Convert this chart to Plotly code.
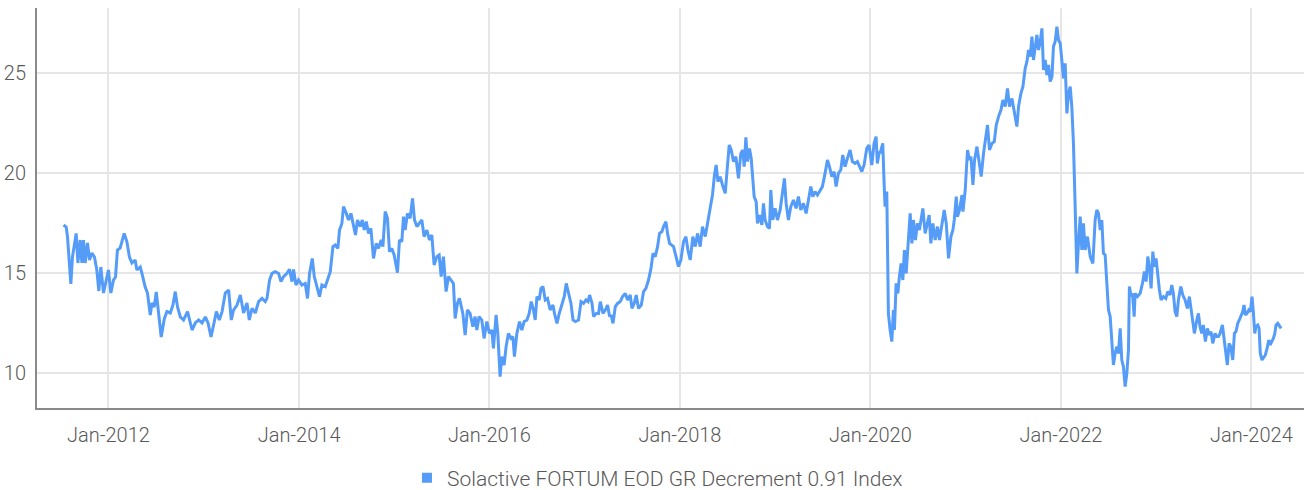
import pandas as pd
import plotly.graph_objects as go

series_name = "Solactive FORTUM EOD GR Decrement 0.91 Index"

dates_decimal = [
    2011.528, 2011.556, 2011.570, 2011.605, 2011.622, 2011.661, 2011.679, 2011.703, 2011.721, 2011.738,
    2011.755, 2011.780, 2011.801, 2011.826, 2011.853, 2011.878, 2011.899, 2011.920, 2011.948, 2011.976,
    2012.000, 2012.025, 2012.053, 2012.074, 2012.094, 2012.123, 2012.141, 2012.165, 2012.193, 2012.220,
    2012.246, 2012.280, 2012.298, 2012.333, 2012.351, 2012.385, 2012.409, 2012.438, 2012.456, 2012.480,
    2012.501, 2012.525, 2012.553, 2012.585, 2012.613, 2012.648, 2012.676, 2012.700, 2012.724, 2012.753,
    2012.787, 2012.829, 2012.876, 2012.910, 2012.945, 2012.981, 2013.015, 2013.044, 2013.075, 2013.102,
    2013.131, 2013.162, 2013.191, 2013.225, 2013.260, 2013.288, 2013.312, 2013.348, 2013.383, 2013.417,
    2013.453, 2013.477, 2013.506, 2013.540,
    2013.575, 2013.611, 2013.645, 2013.663, 2013.690, 2013.716, 2013.750, 2013.785, 2013.810, 2013.837,
    2013.873, 2013.900, 2013.926, 2013.942, 2013.968, 2013.995, 2014.030, 2014.065, 2014.089, 2014.110,
    2014.139, 2014.160, 2014.188, 2014.215, 2014.240, 2014.275, 2014.299, 2014.328, 2014.356, 2014.380,
    2014.408, 2014.425, 2014.450, 2014.467, 2014.496, 2014.520, 2014.545, 2014.566, 2014.593, 2014.614,
    2014.643, 2014.664, 2014.685, 2014.706, 2014.730, 2014.755, 2014.782, 2014.811, 2014.835, 2014.863,
    2014.881, 2014.905, 2014.929, 2014.950, 2014.975, 2014.999, 2015.034, 2015.055, 2015.080, 2015.097,
    2015.115, 2015.139, 2015.167, 2015.192, 2015.213, 2015.238, 2015.265, 2015.290, 2015.314, 2015.343,
    2015.370, 2015.395, 2015.419, 2015.448, 2015.472, 2015.493, 2015.517, 2015.545, 2015.570, 2015.598,
    2015.622, 2015.640, 2015.664, 2015.685,
    2015.721, 2015.745, 2015.769, 2015.797, 2015.826, 2015.850, 2015.868, 2015.892, 2015.920, 2015.944,
    2015.973, 2016.000, 2016.025, 2016.042, 2016.070, 2016.088, 2016.112, 2016.130, 2016.154, 2016.175,
    2016.199, 2016.225, 2016.246, 2016.262, 2016.288, 2016.315, 2016.340, 2016.364, 2016.393, 2016.417,
    2016.438, 2016.462, 2016.480, 2016.498, 2016.522, 2016.540, 2016.561, 2016.585, 2016.609, 2016.637,
    2016.666, 2016.682, 2016.708, 2016.732, 2016.760, 2016.784, 2016.805, 2016.829, 2016.855, 2016.876,
    2016.900, 2016.934, 2016.960, 2016.987, 2017.012, 2017.033, 2017.050, 2017.075, 2017.092, 2017.120,
    2017.144, 2017.162, 2017.191, 2017.215, 2017.239, 2017.260, 2017.275, 2017.296, 2017.320, 2017.344,
    2017.372, 2017.396, 2017.425, 2017.449, 2017.477, 2017.495, 2017.519, 2017.540, 2017.564, 2017.593,
    2017.617, 2017.642, 2017.669, 2017.695, 2017.716, 2017.740, 2017.764, 2017.785, 2017.810, 2017.827,
    2017.852, 2017.869, 2017.890,
    2017.932, 2017.960, 2017.984, 2018.009, 2018.037, 2018.062, 2018.083, 2018.107, 2018.135, 2018.160,
    2018.184, 2018.212, 2018.236, 2018.265, 2018.289, 2018.317, 2018.341, 2018.362, 2018.380, 2018.398,
    2018.422, 2018.446, 2018.475, 2018.492, 2018.517, 2018.538, 2018.562, 2018.587, 2018.614, 2018.639,
    2018.660, 2018.674, 2018.692, 2018.709, 2018.730, 2018.748, 2018.765, 2018.779, 2018.800, 2018.814,
    2018.835, 2018.860, 2018.877, 2018.894, 2018.919, 2018.940, 2018.954, 2018.975, 2018.999, 2019.024,
    2019.052, 2019.076, 2019.097, 2019.115, 2019.139, 2019.164, 2019.192, 2019.220, 2019.244, 2019.269,
    2019.297, 2019.325, 2019.349, 2019.374, 2019.395, 2019.419, 2019.444, 2019.472, 2019.496, 2019.524,
    2019.549, 2019.570, 2019.595, 2019.619, 2019.640, 2019.664, 2019.689, 2019.710, 2019.734, 2019.759,
    2019.787, 2019.811, 2019.839, 2019.864, 2019.885, 2019.910, 2019.934, 2019.962, 2019.986, 2020.015,
    2020.039, 2020.060, 2020.073, 2020.094,
    2020.102, 2020.130, 2020.144, 2020.154, 2020.172, 2020.189, 2020.207, 2020.225, 2020.241, 2020.252,
    2020.270, 2020.288, 2020.304, 2020.322, 2020.340, 2020.357, 2020.375, 2020.399, 2020.417, 2020.435,
    2020.451, 2020.472, 2020.493, 2020.514, 2020.540, 2020.550, 2020.574, 2020.598, 2020.616, 2020.634,
    2020.655, 2020.679, 2020.703, 2020.724, 2020.750, 2020.774, 2020.795, 2020.819, 2020.844, 2020.865,
    2020.879, 2020.900, 2020.913, 2020.934, 2020.960, 2020.970, 2020.994, 2021.018, 2021.039, 2021.054,
    2021.075, 2021.092, 2021.117, 2021.141, 2021.162, 2021.186, 2021.204, 2021.228, 2021.249, 2021.275,
    2021.299, 2021.320, 2021.344, 2021.369, 2021.390, 2021.414, 2021.438, 2021.459, 2021.485, 2021.509,
    2021.537, 2021.554, 2021.579, 2021.600, 2021.624, 2021.642, 2021.659, 2021.677, 2021.695, 2021.711,
    2021.729, 2021.747, 2021.764, 2021.782, 2021.800, 2021.816, 2021.834, 2021.852, 2021.869, 2021.887,
    2021.905, 2021.921, 2021.939, 2021.957, 2021.974, 2021.992, 2022.009, 2022.026, 2022.044, 2022.062,
    2022.079, 2022.097, 2022.114, 2022.131, 2022.149, 2022.167, 2022.184, 2022.202, 2022.219, 2022.236,
    2022.254, 2022.278, 2022.307, 2022.335, 2022.359, 2022.377, 2022.394,
    2022.412, 2022.429, 2022.446, 2022.464, 2022.482, 2022.499, 2022.517, 2022.534, 2022.551, 2022.569,
    2022.587, 2022.604, 2022.622, 2022.639, 2022.656, 2022.674, 2022.692, 2022.709, 2022.719, 2022.737,
    2022.751, 2022.769, 2022.779, 2022.803, 2022.832, 2022.856, 2022.877, 2022.895, 2022.912, 2022.929,
    2022.947, 2022.965, 2022.982, 2022.999, 2023.017, 2023.034, 2023.052, 2023.076, 2023.101, 2023.122,
    2023.146, 2023.164, 2023.181, 2023.199, 2023.217, 2023.234, 2023.259, 2023.280, 2023.304, 2023.328,
    2023.349, 2023.374, 2023.402, 2023.427, 2023.444, 2023.461, 2023.479, 2023.496, 2023.517, 2023.538,
    2023.559, 2023.577, 2023.595, 2023.619, 2023.637, 2023.654, 2023.671, 2023.696, 2023.713, 2023.731,
    2023.748, 2023.766, 2023.784, 2023.805, 2023.822, 2023.839, 2023.857, 2023.874, 2023.892, 2023.910,
    2023.923, 2023.937, 2023.955, 2023.973, 2023.990, 2024.007, 2024.021, 2024.036, 2024.049, 2024.067,
    2024.081, 2024.094, 2024.112, 2024.130, 2024.147, 2024.165, 2024.183, 2024.196, 2024.214, 2024.231,
    2024.246, 2024.259, 2024.277, 2024.294, 2024.312,
]

# Index levels
index_values = [
    17.40, 17.30, 16.80, 14.45, 15.80, 16.98, 15.50, 16.65, 15.50, 16.65,
    15.50, 16.50, 15.65, 16.00, 15.80, 15.15, 14.10, 15.30, 14.00, 14.65,
    15.15, 14.00, 14.65, 14.80, 16.15, 16.25, 16.57, 16.98, 16.57, 15.80,
    15.50, 15.65, 15.15, 15.30, 14.98, 14.30, 14.00, 12.90, 13.50, 13.30,
    14.05, 13.07, 11.80, 12.70, 13.07, 13.00, 13.40, 14.07, 13.30, 12.80,
    12.65, 13.07, 12.15, 12.50, 12.65, 12.50, 12.80, 12.50, 11.80, 12.40,
    13.07, 12.65, 13.07, 14.00, 14.15, 12.65, 13.15, 13.40, 13.90, 13.00,
    13.50, 12.65, 13.23, 13.00,
    13.57, 13.73, 13.57, 13.73, 14.65, 14.98, 15.07, 14.98, 14.57, 14.82,
    14.98, 15.18, 14.57, 15.18, 14.40, 14.65, 14.40, 14.48, 13.73, 14.98,
    15.73, 14.82, 14.32, 13.82, 14.40, 14.32, 14.65, 15.07, 16.32, 16.40,
    16.23, 17.15, 17.48, 18.32, 17.98, 17.65, 17.98, 17.57, 16.90, 17.65,
    17.32, 17.65, 17.15, 17.57, 16.98, 17.23, 15.73, 16.48, 16.23, 16.65,
    16.32, 18.07, 17.73, 16.07, 16.23, 15.90, 15.02, 16.65, 16.57, 17.82,
    17.15, 17.98, 17.73, 18.73, 17.65, 17.32, 17.48, 17.65, 16.82, 17.15,
    16.65, 16.90, 15.40, 15.82, 15.90, 14.82, 15.82, 14.07, 14.82, 14.65,
    14.48, 12.73, 13.48, 13.73,
    12.98, 11.90, 13.15, 12.98, 12.32, 12.82, 12.15, 12.82, 12.65, 11.73,
    12.57, 11.98, 12.15, 11.23, 12.90, 11.98, 9.82, 10.82, 10.40, 11.32,
    11.98, 11.73, 11.82, 10.82, 11.98, 12.57, 12.15, 12.57, 12.65, 12.98,
    13.57, 13.15, 12.65, 13.82, 13.65, 14.23, 14.32, 13.65, 13.73, 13.15,
    13.40, 12.98, 12.48, 12.98, 13.48, 13.82, 14.48, 13.98, 13.48, 12.65,
    12.57, 12.65, 13.57, 13.48, 13.65, 13.57, 13.90, 13.48, 12.82, 12.98,
    12.98, 13.57, 12.98, 13.15, 13.40, 12.82, 12.90, 12.48, 13.32, 13.48,
    13.57, 13.82, 13.98, 13.65, 13.90, 13.23, 13.48, 13.90, 13.23, 13.40,
    14.07, 14.23, 14.65, 15.23, 15.98, 15.82, 16.32, 16.98, 17.07, 17.32,
    17.57, 16.98, 16.48,
    16.32, 15.82, 15.32, 15.65, 16.57, 16.82, 16.15, 15.65, 16.82, 16.32,
    16.98, 16.32, 17.32, 16.82, 17.48, 18.32, 18.90, 19.90, 20.40, 19.57,
    19.82, 19.40, 18.98, 19.98, 21.40, 21.15, 20.57, 20.82, 19.73, 20.98,
    21.15, 20.32, 21.78, 20.57, 21.23, 20.73, 19.82, 18.82, 18.57, 17.48,
    17.90, 17.40, 18.48, 17.65, 17.32, 17.23, 19.15, 17.65, 18.23, 17.65,
    18.15, 18.98, 19.73, 18.48, 17.65, 18.32, 18.65, 18.23, 18.82, 18.15,
    18.48, 17.98, 18.65, 19.32, 18.82, 19.07, 18.90, 19.15, 19.32, 19.98,
    20.65, 20.32, 19.82, 20.07, 19.32, 19.98, 20.15, 20.90, 20.32, 20.73,
    21.15, 20.57, 20.48, 20.57, 20.32, 20.07, 20.40, 21.23, 21.40, 20.40,
    21.48, 21.82, 20.48, 21.07,
    20.98, 21.48, 19.48, 18.32, 19.07, 12.98, 12.15, 11.57, 13.15, 12.15,
    14.48, 13.98, 14.82, 15.48, 14.65, 16.15, 14.98, 16.82, 17.98, 16.48,
    17.65, 16.65, 17.48, 17.15, 17.82, 18.23, 16.98, 17.48, 17.90, 16.48,
    17.48, 16.65, 17.32, 16.65, 17.48, 18.15, 17.48, 15.73, 16.82, 17.15,
    17.65, 18.82, 17.82, 18.15, 18.90, 18.07, 19.15, 21.15, 20.65, 20.82,
    19.40, 20.65, 21.32, 20.48, 19.82, 20.98, 21.65, 22.40, 21.15, 21.48,
    21.57, 22.40, 22.82, 23.15, 23.65, 23.32, 24.23, 23.32, 23.73, 23.15,
    22.32, 23.32, 23.98, 24.32, 25.23, 25.57, 26.15, 25.82, 26.82, 25.65,
    26.32, 26.90, 26.15, 26.57, 27.23, 25.15, 25.65, 24.90, 25.40, 24.57,
    24.82, 26.32, 26.57, 27.32, 26.65, 26.48, 25.65, 24.73, 25.48, 22.98,
    23.98, 24.32, 23.32, 21.48, 18.32, 14.98, 16.48, 17.82, 16.15, 17.48,
    16.15, 16.82, 15.82, 15.48, 17.65, 18.15, 17.98,
    17.15, 17.65, 15.98, 15.90, 14.65, 13.15, 12.82, 11.65, 10.40, 10.98,
    11.32, 10.98, 12.23, 10.65, 10.32, 9.32, 9.98, 11.15, 14.32, 13.82,
    13.98, 12.82, 13.98, 13.82, 13.98, 14.48, 15.07, 14.57, 15.82, 15.32,
    14.23, 16.07, 15.32, 15.73, 14.82, 14.15, 13.65, 13.82, 13.73, 14.07,
    13.90, 14.40, 13.98, 13.07, 12.82, 13.65, 14.32, 13.90, 13.65, 13.23,
    13.82, 12.82, 11.98, 12.65, 12.98, 12.32, 11.98, 12.40, 11.57, 12.23,
    11.90, 12.07, 11.48, 11.98, 11.82, 11.82, 11.98, 12.40, 11.65, 10.98,
    10.40, 11.48, 11.32, 10.65, 11.98, 12.07, 12.48, 12.65, 12.82, 13.07,
    13.40, 12.90, 12.98, 13.15, 13.07, 13.82, 13.07, 11.98, 12.32, 12.40,
    12.23, 10.98, 10.65, 10.82, 10.90, 11.23, 11.65, 11.40, 11.57, 11.73,
    11.98, 12.40, 12.48, 12.32, 12.23,
]

y_ticks = [10, 15, 20, 25]
x_axis_range = ["2011-04-02", "2024-07-21"]
y_axis_range = [8.25, 28.25]


def decimal_year_to_timestamp(value):
    year = int(value)
    start = pd.Timestamp(year=year, month=1, day=1)
    end = pd.Timestamp(year=year + 1, month=1, day=1)
    return start + (end - start) * (value - year)


dates = [decimal_year_to_timestamp(v) for v in dates_decimal]

LINE_COLOR = "#549cf7"
FONT = "Roboto"
TEXT_COLOR = "#595959"

fig = go.Figure()
fig.add_trace(go.Scatter(
    x=dates, y=index_values, mode="lines", name=series_name,
    line=dict(color=LINE_COLOR, width=3), showlegend=False,
    hovertemplate="%{x|%d %b %Y}: %{y:.2f}<extra></extra>",
))
# legend entry shown as a square swatch
fig.add_trace(go.Scatter(
    x=[None], y=[None], mode="markers", name=series_name,
    marker=dict(symbol="square", size=10, color=LINE_COLOR), showlegend=True,
))

fig.update_layout(
    width=1304, height=490,
    margin=dict(l=37, r=0, t=8, b=82, autoexpand=False),
    paper_bgcolor="white", plot_bgcolor="white",
    font=dict(family=FONT, size=20, color=TEXT_COLOR, weight=300),
    legend=dict(orientation="h", x=0.292, xanchor="left", y=-0.175, yanchor="middle",
                font=dict(family=FONT, size=21, color=TEXT_COLOR, weight=300),
                itemwidth=30, tracegroupgap=0),
    xaxis=dict(
        type="date", range=x_axis_range, tick0="2012-01-01", dtick="M24", tickformat="%b-%Y",
        showgrid=True, gridcolor="#e6e6e6", gridwidth=2,
        showline=True, linecolor="#8a8a8a", linewidth=2,
        ticks="outside", ticklen=8, tickcolor="rgba(0,0,0,0)",
        zeroline=False, automargin=False,
    ),
    yaxis=dict(
        range=y_axis_range, tickvals=y_ticks,
        showgrid=True, gridcolor="#e6e6e6", gridwidth=2,
        showline=True, linecolor="#8a8a8a", linewidth=2,
        ticks="outside", ticklen=5, tickcolor="rgba(0,0,0,0)",
        zeroline=False, automargin=False,
    ),
)

# remove the browser's default page margin so the figure sits at the window's corner
fig.write_html("out.html", config={"displayModeBar": False},
               post_script="document.body.style.margin='0';")
